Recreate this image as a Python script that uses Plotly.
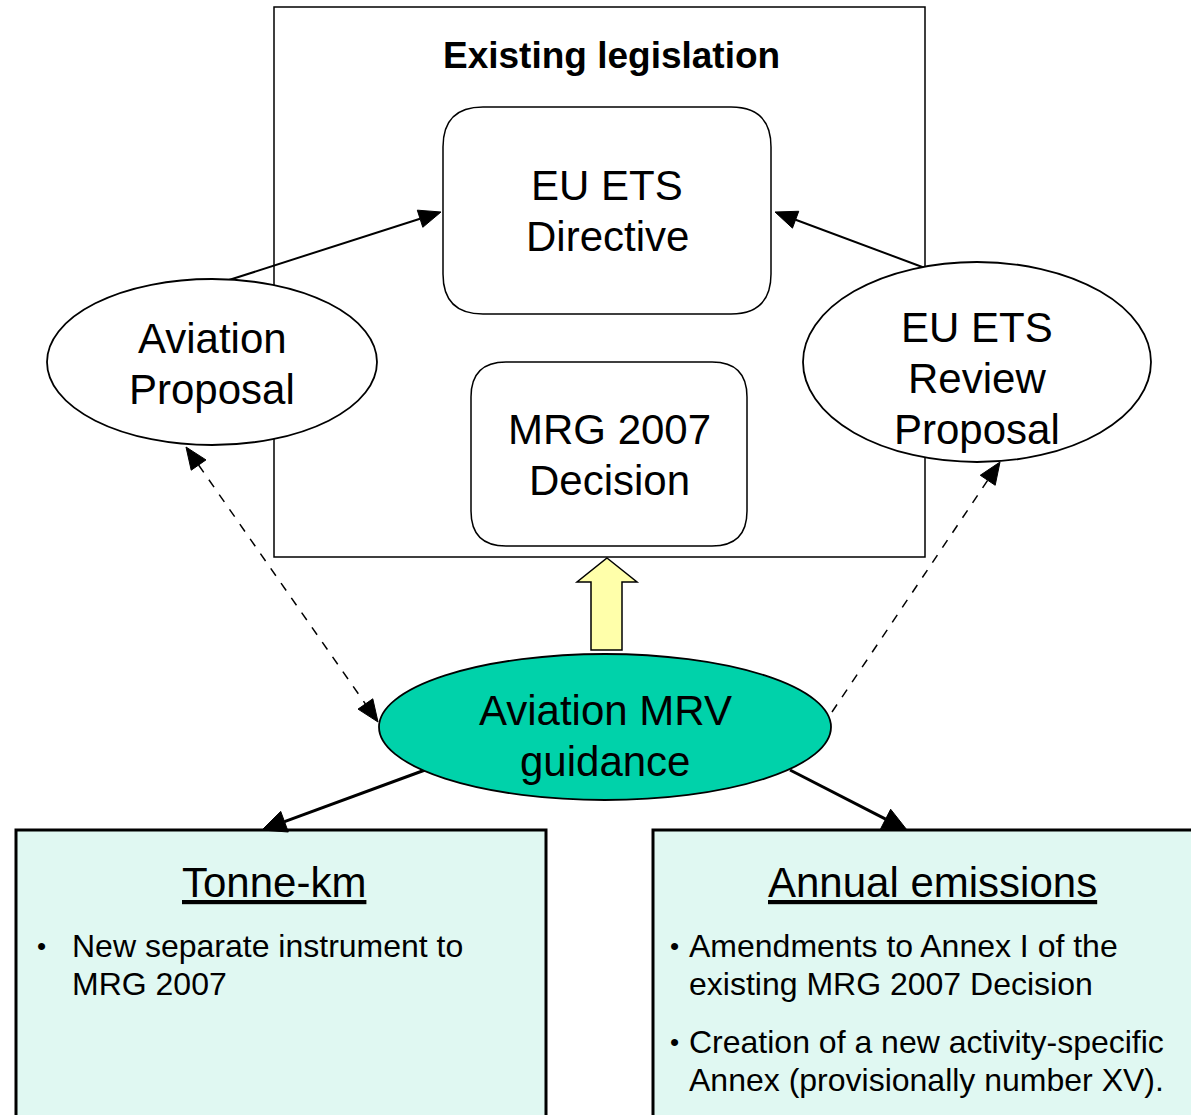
import plotly.graph_objects as go
import math

# ---------------- data (text content) ----------------
frame_title = "Existing legislation"
directive_lines = ["EU ETS", "Directive"]
mrg_lines = ["MRG 2007", "Decision"]
aviation_prop_lines = ["Aviation", "Proposal"]
review_prop_lines = ["EU ETS", "Review", "Proposal"]
mrv_lines = ["Aviation MRV", "guidance"]
left_box_title = "Tonne-km"
left_box_bullets = [["New separate instrument to", "MRG 2007"]]
right_box_title = "Annual emissions"
right_box_bullets = [["Amendments to Annex I of the", "existing MRG 2007 Decision"],
                     ["Creation of a new activity-specific", "Annex (provisionally number XV)."]]

W, H = 1191, 1115
FONT = "Arial, Liberation Sans, sans-serif"

# ---------------- layout geometry ----------------
shapes = []
annotations = []


def rounded_rect(x0, y0, x1, y1, r, fill="white", lw=1.5):
    p = (f"M {x0+r},{y0} L {x1-r},{y0} Q {x1},{y0} {x1},{y0+r} "
         f"L {x1},{y1-r} Q {x1},{y1} {x1-r},{y1} L {x0+r},{y1} "
         f"Q {x0},{y1} {x0},{y1-r} L {x0},{y0+r} Q {x0},{y0} {x0+r},{y0} Z")
    shapes.append(dict(type="path", path=p, xref="x", yref="y",
                       fillcolor=fill, line=dict(color="black", width=lw), layer="above"))


def ellipse(cx, cy, rx, ry, fill="white", lw=1.8):
    shapes.append(dict(type="circle", xref="x", yref="y", x0=cx-rx, x1=cx+rx,
                       y0=cy-ry, y1=cy+ry, fillcolor=fill,
                       line=dict(color="black", width=lw), layer="above"))


def text_lines(lines, cx, y_first, step, size, xanchor="center"):
    for i, t in enumerate(lines):
        annotations.append(dict(x=cx, y=y_first + i*step, xref="x", yref="y",
                                text=t, showarrow=False, xanchor=xanchor, yanchor="middle",
                                font=dict(family=FONT, size=size, color="black")))


def head(tx, ty, fx, fy, length=22, width=18):
    ang = math.atan2(ty - fy, tx - fx)
    bx, by = tx - length*math.cos(ang), ty - length*math.sin(ang)
    px, py = -math.sin(ang)*width/2, math.cos(ang)*width/2
    p = f"M {tx},{ty} L {bx+px},{by+py} L {bx-px},{by-py} Z"
    shapes.append(dict(type="path", path=p, xref="x", yref="y",
                       fillcolor="black", line=dict(color="black", width=1), layer="above"))
    return bx, by


def arrow(fx, fy, tx, ty, dash="solid", lw=2, heads=("end",), length=22, width=18):
    sx, sy, ex, ey = fx, fy, tx, ty
    if "end" in heads:
        ex, ey = head(tx, ty, fx, fy, length, width)
    if "start" in heads:
        sx, sy = head(fx, fy, tx, ty, length, width)
    shapes.append(dict(type="line", xref="x", yref="y", x0=sx, y0=sy, x1=ex, y1=ey,
                       line=dict(color="black", width=lw, dash=dash), layer="above"))


# Outer frame
shapes.append(dict(type="rect", xref="x", yref="y", x0=274, x1=925, y0=7, y1=557,
                   fillcolor="white", line=dict(color="black", width=1.5), layer="below"))
annotations.append(dict(x=611, y=55, xref="x", yref="y", text=f"<b>{frame_title}</b>",
                        showarrow=False, font=dict(family=FONT, size=37, color="black")))

# Rounded boxes
rounded_rect(443, 107, 771, 314, 40)
text_lines(directive_lines, 607, 185, 51, 42)
rounded_rect(471, 362, 747, 546, 35)
text_lines(mrg_lines, 609, 429, 51, 42)

# Solid arrows to directive
arrow(229, 280, 441, 212, lw=2)
arrow(925, 268, 775, 212, lw=2)

# Ellipses
ellipse(212, 362, 165, 83)
text_lines(aviation_prop_lines, 212, 338, 51, 42)
ellipse(977, 362, 174, 100)
text_lines(review_prop_lines, 977, 327, 51, 42)

# Yellow block arrow
yp = "M 607,558 L 637,582 L 622,582 L 622,650 L 591,650 L 591,582 L 577,582 Z"
shapes.append(dict(type="path", path=yp, xref="x", yref="y", fillcolor="#FFFFAA",
                   line=dict(color="black", width=1.5), layer="above"))

# Dashed arrows
arrow(186, 447, 378, 722, dash="dash", lw=1.5, heads=("start", "end"))
arrow(832, 712, 1000, 462, dash="dash", lw=1.5, heads=("end",))

# Bottom boxes
shapes.append(dict(type="rect", xref="x", yref="y", x0=16, x1=546, y0=830, y1=1140,
                   fillcolor="#E0F8F2", line=dict(color="black", width=3), layer="above"))
shapes.append(dict(type="rect", xref="x", yref="y", x0=653, x1=1210, y0=830, y1=1140,
                   fillcolor="#E0F8F2", line=dict(color="black", width=3), layer="above"))

# Thick arrows to boxes
arrow(425, 770, 262, 830, lw=3, length=24, width=22)
arrow(790, 770, 907, 830, lw=3, length=24, width=22)

# MRV ellipse
ellipse(605, 727, 226, 73, fill="#00D2AA")
text_lines(mrv_lines, 605, 710, 51, 42)

# Box texts
annotations.append(dict(x=274, y=882, xref="x", yref="y", text=f"<u>{left_box_title}</u>",
                        showarrow=False, font=dict(family=FONT, size=42, color="black")))
annotations.append(dict(x=932, y=882, xref="x", yref="y", text=f"<u>{right_box_title}</u>",
                        showarrow=False, font=dict(family=FONT, size=42, color="black")))

y = 946
for b in left_box_bullets:
    annotations.append(dict(x=35, y=y, xref="x", yref="y", text="•", showarrow=False,
                            xanchor="left", font=dict(family=FONT, size=26, color="black")))
    text_lines(b, 70, y, 38, 32, xanchor="left")
    y += 38*len(b) + 20

y = 946
for b in right_box_bullets:
    annotations.append(dict(x=668, y=y, xref="x", yref="y", text="•", showarrow=False,
                            xanchor="left", font=dict(family=FONT, size=26, color="black")))
    text_lines(b, 687, y, 38, 32, xanchor="left")
    y += 38*len(b) + 20

fig = go.Figure()
fig.update_layout(
    width=W, height=H, margin=dict(l=0, r=0, t=0, b=0),
    paper_bgcolor="white", plot_bgcolor="white",
    xaxis=dict(range=[0, W], visible=False, fixedrange=True),
    yaxis=dict(range=[H, 0], visible=False, fixedrange=True),
    shapes=shapes, annotations=annotations, showlegend=False,
)
fig.write_html("out.html", config={"displayModeBar": False},
               post_script="document.body.style.margin='0';document.body.style.overflow='hidden';")
